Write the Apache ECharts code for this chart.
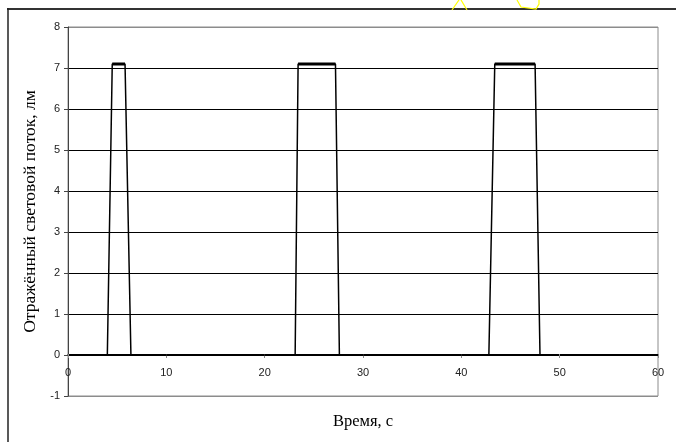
<!DOCTYPE html>
<html><head><meta charset="utf-8">
<script src="https://cdn.jsdelivr.net/npm/echarts@6/dist/echarts.min.js"></script>
<style>html,body{margin:0;padding:0;background:#fff}#c{width:676px;height:442px}</style>
</head><body><div id="c"></div>
<script>
// Data
var timeValues = [3.0, 4.0, 4.5, 5.8, 6.4, 23.1, 23.4, 27.2, 27.6, 42.8, 43.4, 47.5, 48.0, 48.6];
var fluxValues = [0, 0, 7.1, 7.1, 0, 0, 7.1, 7.1, 0, 0, 7.1, 7.1, 0, 0];
var xTicks = [0, 10, 20, 30, 40, 50, 60];
var yTicks = [-1, 0, 1, 2, 3, 4, 5, 6, 7, 8];
var xTitle = 'Время, с';
var yTitle = 'Отражённый световой поток, лм';

var lineData = timeValues.map(function (t, i) { return [t, fluxValues[i]]; });
var plateauData = [];
for (var i = 0; i < lineData.length; i++) {
  if (fluxValues[i] > 0) plateauData.push(lineData[i]);
  else if (plateauData.length && plateauData[plateauData.length - 1] !== null) plateauData.push(null);
}
plateauData = plateauData.map(function (p) { return p === null ? ['-', '-'] : p; });

var gridColors = yTicks.map(function (v, i) { return (i === 0 || i === yTicks.length - 1) ? '#8c8c8c' : '#000'; });

var xMin = xTicks[0], xMax = xTicks[xTicks.length - 1];
var chart = echarts.init(document.getElementById('c'), null, { renderer: 'canvas' });
chart.setOption({
  animation: false,
  backgroundColor: '#fff',
  grid: [
    { left: 68, right: 18, top: 27, bottom: 46, show: true, borderColor: '#8c8c8c', borderWidth: 1, containLabel: false, outerBoundsMode: 'none' },
    // helper grid whose bottom edge sits on the zero line, carrying the x axis labels
    { left: 68, right: 18, top: 27, bottom: 88, show: false, containLabel: false, outerBoundsMode: 'none' }
  ],
  xAxis: [
    { gridIndex: 0, type: 'value', min: xMin, max: xMax, interval: 10, show: true,
      axisLine: { show: false }, axisTick: { show: false }, axisLabel: { show: false }, splitLine: { show: false } },
    { gridIndex: 1, type: 'value', min: xMin, max: xMax, interval: 10, position: 'bottom',
      name: xTitle, nameLocation: 'middle', nameGap: 59,
      nameTextStyle: { fontFamily: 'Liberation Serif', fontSize: 16.5, color: '#000' },
      axisLine: { onZero: false, lineStyle: { color: '#000', width: 1 } },
      axisTick: { show: true, length: 4, lineStyle: { color: '#888' } },
      axisLabel: { fontFamily: 'Liberation Sans', fontSize: 11, color: '#222', margin: 13 },
      splitLine: { show: false } }
  ],
  yAxis: [
    { gridIndex: 0, type: 'value', min: yTicks[0], max: yTicks[yTicks.length - 1], interval: 1,
      name: yTitle, nameLocation: 'middle', nameGap: 27, nameRotate: 90,
      nameTextStyle: { fontFamily: 'Liberation Serif', fontSize: 17.5, color: '#000' },
      axisLine: { onZero: false, lineStyle: { color: '#444', width: 1 } },
      axisTick: { show: true, length: 4, lineStyle: { color: '#444' } },
      axisLabel: { fontFamily: 'Liberation Sans', fontSize: 11, color: '#222', margin: 8 },
      splitLine: { show: true, lineStyle: { color: gridColors, width: 1 } } },
    { gridIndex: 1, type: 'value', min: 0, max: 8, show: false }
  ],
  graphic: [
    { type: 'line', shape: { x1: 7, y1: 9, x2: 676, y2: 9 }, style: { stroke: '#333', lineWidth: 2 } },
    { type: 'line', shape: { x1: 8, y1: 8, x2: 8, y2: 442 }, style: { stroke: '#222', lineWidth: 1.5 } },
    { type: 'polyline', shape: { points: [[452, 10], [459, 0]] }, style: { stroke: '#ffff00', lineWidth: 1.2, fill: null } },
    { type: 'polyline', shape: { points: [[461, 0], [467, 10]] }, style: { stroke: '#ffff00', lineWidth: 1.2, fill: null } },
    { type: 'polyline', shape: { points: [[517, 0], [521, 7], [536, 9], [539, 4], [539, 0]] }, style: { stroke: '#ffff00', lineWidth: 1.2, fill: null } }
  ],
  series: [
    { type: 'line', xAxisIndex: 0, yAxisIndex: 0, data: lineData, showSymbol: false, symbol: 'none', lineStyle: { color: '#000', width: 1.5 }, z: 3 },
    { type: 'line', xAxisIndex: 0, yAxisIndex: 0, data: plateauData, showSymbol: false, symbol: 'none', connectNulls: false, lineStyle: { color: '#000', width: 3 }, z: 4 }
  ]
});
</script></body></html>
